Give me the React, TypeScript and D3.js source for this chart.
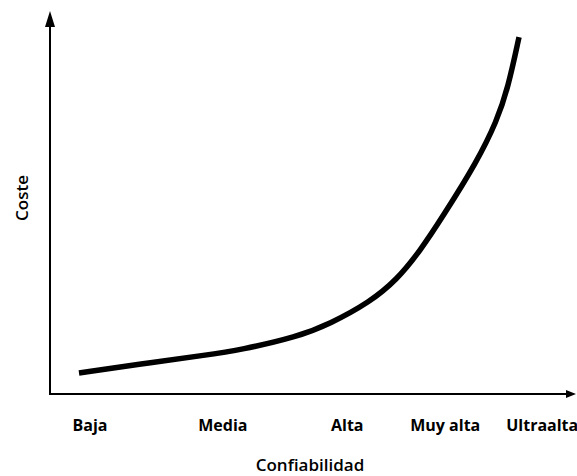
import { useRef, useEffect } from 'react';
import * as d3 from 'd3';

// Category labels on the reliability axis and where they sit (0-100 scale)
const categories = ['Baja', 'Media', 'Alta', 'Muy alta', 'Ultraalta'];
const categoryPos = [7.6, 32.8, 56.4, 75, 93.4];

// Cost curve (reliability 0-100, cost 0-100)
const curveX = [5.5, 17.1, 29.8, 36.1, 46.9, 53.1, 60.7, 65.8, 70.2, 74.6, 81.0, 84.8, 86.9, 89.0];
const curveY = [5.5, 7.8, 10.2, 11.5, 14.9, 18.3, 24.0, 29.8, 37.3, 46.5, 60.6, 71.3, 79.9, 93.2];

const xTitle = 'Confiabilidad';
const yTitle = 'Coste';

export default function App() {
  const svgRef = useRef<SVGSVGElement>(null);

  useEffect(() => {
    if (!svgRef.current) return;
    const width = 577;
    const height = 476;
    const svg = d3.select(svgRef.current);
    svg.selectAll('*').remove();
    svg.attr('width', width).attr('height', height);

    const x0 = 50;
    const y0 = 394;
    const x = d3.scaleLinear().domain([0, 100]).range([x0, 577]);
    const y = d3.scaleLinear().domain([0, 100]).range([y0, 11]);

    const font = "'Open Sans', sans-serif";

    // Axes
    svg.append('line')
      .attr('x1', x(0)).attr('y1', y(0) + 1)
      .attr('x2', x(0)).attr('y2', y(100) + 10)
      .attr('stroke', '#000').attr('stroke-width', 2);
    svg.append('path')
      .attr('d', `M${x(0)},${y(100)} L${x(0) - 5},${y(100) + 16} L${x(0) + 5},${y(100) + 16} Z`)
      .attr('fill', '#000');

    svg.append('line')
      .attr('x1', x(0) - 1).attr('y1', y(0))
      .attr('x2', x(100) - 8).attr('y2', y(0))
      .attr('stroke', '#000').attr('stroke-width', 2);
    svg.append('path')
      .attr('d', `M${x(100) - 1},${y(0)} L${x(100) - 11},${y(0) - 4} L${x(100) - 11},${y(0) + 4} Z`)
      .attr('fill', '#000');

    // Curve
    const pts: [number, number][] = curveX.map((d, i) => [d, curveY[i]]);
    const line = d3.line<[number, number]>()
      .x((d) => x(d[0]))
      .y((d) => y(d[1]))
      .curve(d3.curveBasis);
    svg.append('path')
      .attr('d', line(pts))
      .attr('fill', 'none')
      .attr('stroke', '#000')
      .attr('stroke-width', 5.5);

    // Category labels
    svg.selectAll('.cat')
      .data(categories)
      .join('text')
      .attr('class', 'cat')
      .attr('x', (_d, i) => x(categoryPos[i]))
      .attr('y', 431)
      .attr('text-anchor', 'middle')
      .attr('font-family', font)
      .attr('font-weight', 700)
      .attr('font-size', 16)
      .attr('fill', '#000')
      .text((d) => d);

    // Titles
    svg.append('text')
      .attr('x', 310).attr('y', 471)
      .attr('text-anchor', 'middle')
      .attr('font-family', font)
      .attr('font-weight', 600)
      .attr('font-size', 17)
      .text(xTitle);

    svg.append('text')
      .attr('transform', 'translate(28,198) rotate(-90)')
      .attr('text-anchor', 'middle')
      .attr('font-family', font)
      .attr('font-weight', 600)
      .attr('font-size', 17)
      .text(yTitle);
  }, []);

  return (
    <div style={{ position: 'absolute', left: 0, top: 0 }}>
      <svg ref={svgRef} style={{ display: 'block' }} />
    </div>
  );
}
